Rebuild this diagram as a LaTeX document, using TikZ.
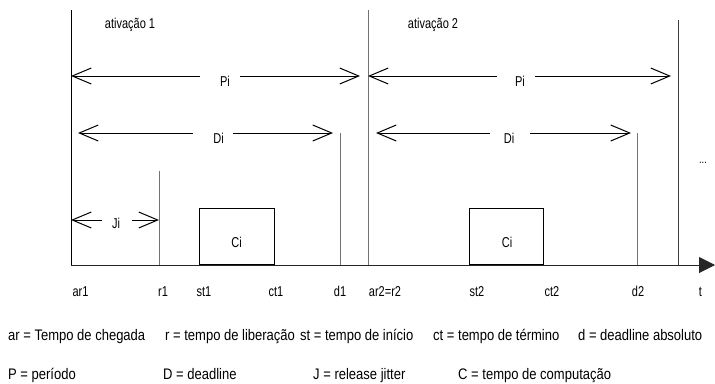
\documentclass[tikz,border=0pt]{standalone}
\usepackage{fontspec}
\setmainfont{Liberation Sans}[FakeStretch=0.85]
\newfontfamily\lblfont{Liberation Sans}[FakeStretch=0.77]
\usetikzlibrary{arrows.meta}
\tikzset{
  lbl/.style={inner sep=0pt, anchor=base, font=\lblfont\fontsize{14.3pt}{16pt}\selectfont},
  leg/.style={inner sep=0pt, anchor=base west, font=\fontsize{15.3pt}{17pt}\selectfont},
  barb/.tip={Straight Barb[length=19pt,width=16pt]},
  dimleft/.style={line width=1pt, barb-},
  dimright/.style={line width=1pt, -barb},
  vline/.style={line width=1pt, draw=black!55},
  cbox/.style={draw, line width=1pt, minimum width=75pt, minimum height=56pt, anchor=south west, inner sep=0pt},
  axis/.style={line width=1pt, draw=black!85, -{Triangle[length=16pt,width=16pt]}}
}
\begin{document}
\begin{tikzpicture}[x=1pt,y=-1pt]
\useasboundingbox (0,0) rectangle (715,383);
% vertical lines
\coordinate (ar1t) at (71,10);   \coordinate (ar1b) at (71,265);
\coordinate (r1t) at (159,171);  \coordinate (r1b) at (159,265);
\coordinate (d1t) at (340,133);  \coordinate (d1b) at (340,265);
\coordinate (ar2t) at (368,10);  \coordinate (ar2b) at (368,265);
\coordinate (d2t) at (637.5,133);\coordinate (d2b) at (637.5,265);
\coordinate (endt) at (678,20);  \coordinate (endb) at (678,265);
\draw[line width=1pt] (ar1t) -- (ar1b);
\draw[vline] (r1t) -- (r1b);
\draw[vline] (d1t) -- (d1b);
\draw[vline] (ar2t) -- (ar2b);
\draw[vline] (d2t) -- (d2b);
\draw[vline, draw=black!75] (endt) -- (endb);
% axis
\coordinate (axs) at (71,265); \coordinate (axe) at (715,265);
\draw[axis] (axs) -- (axe);
% computation boxes
\node[cbox] (c1) at (199,265) {};
\node[cbox, minimum width=74pt] (c2) at (469,265) {};
\node[lbl] (ci1) at (236.5,247) {Ci};
\node[lbl] (ci2) at (507,247) {Ci};
% activation titles
\node[lbl] (at1) at (130,28) {ativação 1};
\node[lbl] (at2) at (433,28) {ativação 2};
% Pi arrows
\coordinate (p1a) at (71,76);  \coordinate (p1l) at (200,76);
\coordinate (p1r) at (240,76); \coordinate (p1b) at (360,76);
\draw[dimleft] (p1a) -- (p1l);
\draw[dimright] (p1r) -- (p1b);
\node[lbl] (pi1) at (225,86) {Pi};
\coordinate (p2a) at (368,76); \coordinate (p2l) at (497,76);
\coordinate (p2r) at (535,76); \coordinate (p2b) at (671,76);
\draw[dimleft] (p2a) -- (p2l);
\draw[dimright] (p2r) -- (p2b);
\node[lbl] (pi2) at (520,86) {Pi};
% Di arrows
\coordinate (q1a) at (78,133);  \coordinate (q1l) at (193,133);
\coordinate (q1r) at (233,133); \coordinate (q1b) at (333,133);
\draw[dimleft] (q1a) -- (q1l);
\draw[dimright] (q1r) -- (q1b);
\node[lbl] (di1) at (218.5,143) {Di};
\coordinate (q2a) at (376,133); \coordinate (q2l) at (490,133);
\coordinate (q2r) at (530,133); \coordinate (q2b) at (631,133);
\draw[dimleft] (q2a) -- (q2l);
\draw[dimright] (q2r) -- (q2b);
\node[lbl] (di2) at (509,143) {Di};
% Ji arrow
\coordinate (j1a) at (71,220);  \coordinate (j1l) at (102,220);
\coordinate (j1r) at (132,220); \coordinate (j1b) at (159,220);
\draw[dimleft] (j1a) -- (j1l);
\draw[dimright] (j1r) -- (j1b);
\node[lbl] (ji) at (116,228) {Ji};
% ellipsis
\node[lbl, font=\lblfont\fontsize{12pt}{13pt}\selectfont] (dots) at (703,163) {...};
% axis labels
\node[lbl] (lar1) at (80.5,296) {ar1};
\node[lbl] (lr1) at (163,296) {r1};
\node[lbl] (lst1) at (204,296) {st1};
\node[lbl] (lct1) at (276,296) {ct1};
\node[lbl] (ld1) at (340,296) {d1};
\node[lbl] (lar2) at (385,296) {ar2=r2};
\node[lbl] (lst2) at (477,296) {st2};
\node[lbl] (lct2) at (552,296) {ct2};
\node[lbl] (ld2) at (638,296) {d2};
\node[lbl] (lt) at (700.5,296) {t};
% legend
\node[leg] (g1) at (8,340) {ar = Tempo de chegada};
\node[leg] (g2) at (165,340) {r = tempo de liberação};
\node[leg] (g3) at (300,340) {st = tempo de início};
\node[leg] (g4) at (433,340) {ct = tempo de término};
\node[leg] (g5) at (578,340) {d = deadline absoluto};
\node[leg] (h1) at (8,379) {P = período};
\node[leg] (h2) at (163,379) {D = deadline};
\node[leg] (h3) at (313,379) {J = release jitter};
\node[leg] (h4) at (458,379) {C = tempo de computação};
\end{tikzpicture}
\end{document}
